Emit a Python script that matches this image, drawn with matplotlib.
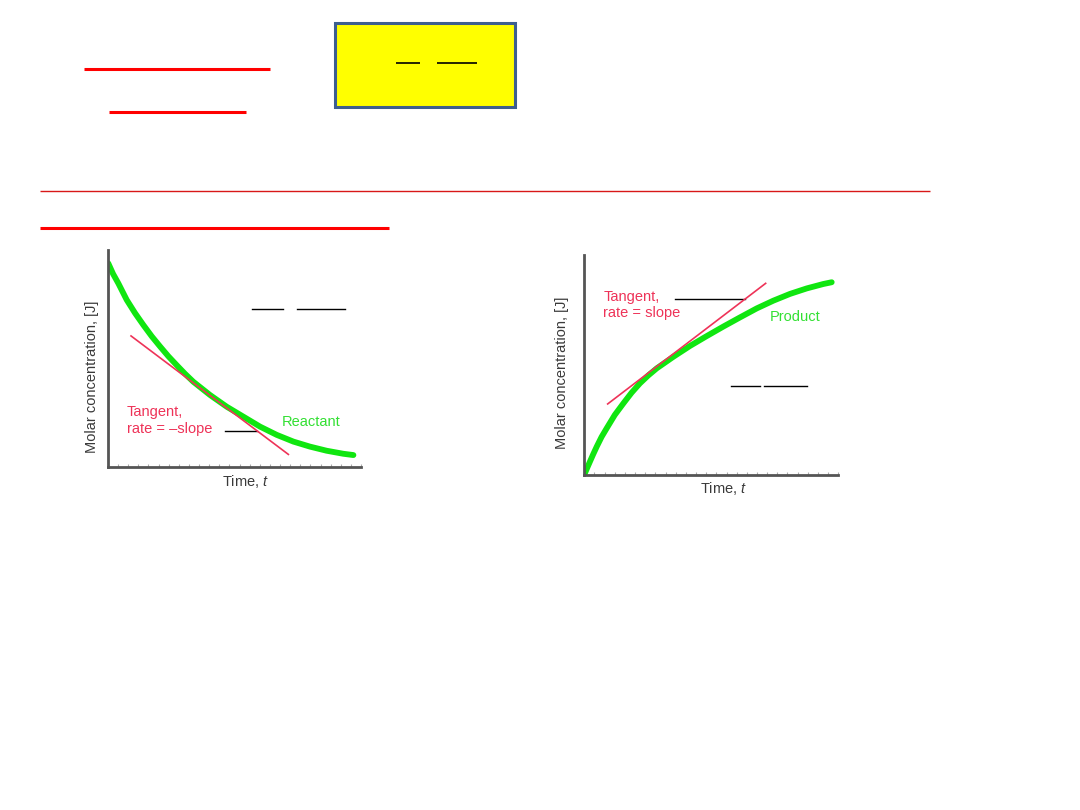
import matplotlib
matplotlib.use("Agg")
import matplotlib.pyplot as plt
from matplotlib.lines import Line2D
from matplotlib.patches import Rectangle
import numpy as np

plt.rcParams['font.family'] = ['Liberation Sans', 'DejaVu Sans']
plt.rcParams['mathtext.fontset'] = 'custom'
plt.rcParams['mathtext.rm'] = 'Liberation Sans'
plt.rcParams['mathtext.it'] = 'Liberation Sans:italic'

# ---------------- data ----------------
reactant_t = [0.01, 0.20, 0.41, 0.74, 1.07, 1.40, 1.73, 2.06, 2.38, 2.71, 3.04,
              3.37, 4.03, 4.69, 5.35, 6.01, 6.67, 7.33, 7.98, 8.64, 9.30, 9.70]
reactant_c = [9.39, 8.90, 8.46, 7.70, 7.09, 6.54, 6.02, 5.55, 5.11, 4.70, 4.30,
              3.93, 3.32, 2.78, 2.32, 1.86, 1.48, 1.17, 0.94, 0.75, 0.61, 0.55]
reactant_tangent_t = [0.91, 7.13]
reactant_tangent_c = [6.04, 0.58]

product_t = [0.00, 0.11, 0.22, 0.35, 0.49, 0.68, 0.88, 1.20, 1.54, 1.86, 2.19,
             2.52, 2.85, 3.51, 4.16, 4.82, 5.47, 6.13, 6.79, 7.44, 8.10, 8.76,
             9.41, 9.74]
product_c = [0.00, 0.30, 0.59, 0.93, 1.28, 1.72, 2.11, 2.72, 3.25, 3.73, 4.16,
             4.52, 4.84, 5.37, 5.86, 6.31, 6.74, 7.16, 7.57, 7.92, 8.23, 8.48,
             8.68, 8.76]
product_tangent_t = [0.92, 7.14]
product_tangent_c = [3.22, 8.71]

x_label = "Time, $t$"
y_label = "Molar concentration, [J]"
reactant_label = "Reactant"
product_label = "Product"
reactant_tangent_text = "Tangent,\nrate = \u2013slope"
product_tangent_text = "Tangent,\nrate = slope"

# ---------------- styling ----------------
W, H = 1080, 810
GREEN = "#10e610"
GREEN_TXT = "#33e033"
PINK = "#ee3358"
AXCOL = "#555555"
LBLCOL = "#3a3a3a"

fig = plt.figure(figsize=(W / 100, H / 100), dpi=100)
fig.patch.set_facecolor("white")


def fx(px):
    return px / W


def fy(py):
    return 1 - py / H


def fig_line(x0, x1, y, color, lw):
    fig.add_artist(Line2D([fx(x0), fx(x1)], [fy(y), fy(y)], color=color, lw=lw,
                          solid_capstyle="butt", transform=fig.transFigure))


# top decoration lines
fig_line(84, 270, 68.7, "#ff0000", 2.2)
fig_line(109, 246, 111.7, "#ff0000", 2.2)
fig_line(40, 930, 191.3, "#d81818", 1.0)
fig_line(40, 389, 228, "#ff0000", 2.2)

# yellow box
box = Rectangle((fx(335.3), fy(107.3)), fx(514.7) - fx(335.3), fy(22.7) - fy(107.3),
                transform=fig.transFigure, facecolor="#ffff00", edgecolor="#3d5f8f",
                linewidth=2.2)
fig.add_artist(box)
fig_line(396, 420, 63.3, "black", 1.2)
fig_line(436.7, 476.7, 63.3, "black", 1.2)


def make_axes(x0, x1, ytop, ybot):
    ax = fig.add_axes([fx(x0), fy(ybot), fx(x1) - fx(x0), fy(ytop) - fy(ybot)])
    ax.set_xlim(0, 10)
    ax.set_ylim(0, 10)
    for s in ("top", "right"):
        ax.spines[s].set_visible(False)
    for s in ("left", "bottom"):
        ax.spines[s].set_color(AXCOL)
        ax.spines[s].set_linewidth(2.0)
    ax.set_xticks(np.arange(0.4, 10.01, 0.4))
    ax.set_yticks([])
    ax.tick_params(axis="x", direction="in", length=2.0, width=0.8, color="#aaaaaa",
                   labelbottom=False)
    ax.patch.set_alpha(0)
    return ax


# ---------------- left plot: reactant ----------------
ax1 = make_axes(108, 361, 250, 467)
ax1.plot(reactant_t, reactant_c, color=GREEN, lw=4.2, solid_capstyle="round",
         solid_joinstyle="round", zorder=2)
ax1.plot(reactant_tangent_t, reactant_tangent_c, color=PINK, lw=1.2, zorder=3)
ax1.plot([4.62, 5.88], [1.66, 1.66], color="black", lw=1.0)
ax1.text(0.74, 2.14, reactant_tangent_text, color=PINK, fontsize=10.5,
         ha="left", va="center", linespacing=1.2)
ax1.text(6.86, 2.09, reactant_label, color=GREEN_TXT, fontsize=10.5,
         ha="left", va="center")
ax1.plot([5.68, 6.90], [7.28, 7.28], color="black", lw=1.0)
ax1.plot([7.48, 9.37], [7.28, 7.28], color="black", lw=1.0)
fig.text(fx(91.7), fy(376.7), y_label, rotation=90, ha="center", va="center",
         fontsize=10.5, color=LBLCOL)
fig.text(fx(245.7), fy(481.7), x_label, ha="center", va="center",
         fontsize=10.5, color=LBLCOL)

# ---------------- right plot: product ----------------
ax2 = make_axes(584.3, 838.3, 255, 474.7)
ax2.plot(product_t, product_c, color=GREEN, lw=4.2, solid_capstyle="round",
         solid_joinstyle="round", zorder=2)
ax2.plot(product_tangent_t, product_tangent_c, color=PINK, lw=1.2, zorder=3)
ax2.plot([3.57, 6.33], [7.98, 7.98], color="black", lw=1.0)
ax2.text(0.75, 7.71, product_tangent_text, color=PINK, fontsize=10.5,
         ha="left", va="center", linespacing=1.2)
ax2.text(7.29, 7.16, product_label, color=GREEN_TXT, fontsize=10.5,
         ha="left", va="center")
ax2.plot([5.76, 6.92], [4.05, 4.05], color="black", lw=1.0)
ax2.plot([7.08, 8.76], [4.05, 4.05], color="black", lw=1.0)
fig.text(fx(561.7), fy(373.3), y_label, rotation=90, ha="center", va="center",
         fontsize=10.5, color=LBLCOL)
fig.text(fx(723.3), fy(488.3), x_label, ha="center", va="center",
         fontsize=10.5, color=LBLCOL)

fig.savefig("out.png", dpi=100, facecolor="white")
